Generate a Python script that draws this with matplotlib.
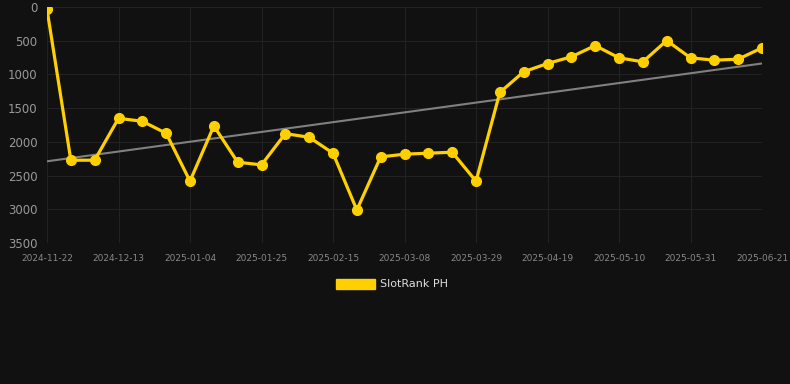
import numpy as np
import pandas as pd
import matplotlib
matplotlib.use("Agg")
import matplotlib.pyplot as plt
import matplotlib.patches as mpatches

# weekly rank values (lower = better)
dates = pd.date_range("2024-11-22", periods=31, freq="7D")
ranks = [35, 2272, 2272, 1651, 1695, 1873, 2583, 1764, 2302, 2341,
         1878, 1932, 2168, 3011, 2223, 2183, 2168, 2154, 2583, 1267,
         961, 838, 739, 572, 754, 813, 498, 754, 789, 774, 606]
tick_labels = ["2024-11-22", "2024-12-13", "2025-01-04", "2025-01-25",
               "2025-02-15", "2025-03-08", "2025-03-29", "2025-04-19",
               "2025-05-10", "2025-05-31", "2025-06-21"]
y_ticks = [0, 500, 1000, 1500, 2000, 2500, 3000, 3500]

bg = "#111111"
fig = plt.figure(figsize=(7.9, 3.84), dpi=100, facecolor=bg)
ax = fig.add_axes([47/790, 1-243/384, (762-47)/790, (243-7)/384])
ax.set_facecolor(bg)

# trend line
xn = np.arange(len(ranks))
k, b = np.polyfit(xn, ranks, 1)
ax.plot(dates, k*xn + b, color="#808080", lw=1.5, zorder=2)

ax.plot(dates, ranks, color="#FFD000", lw=2.3, marker="o", ms=7, zorder=3)

ax.set_ylim(3500, 0)
ax.set_xlim(dates[0], dates[-1])
ax.set_yticks(y_ticks)
tick_pos = pd.date_range(dates[0], dates[-1], periods=len(tick_labels))
ax.set_xticks(tick_pos)
ax.set_xticklabels(tick_labels)
ax.grid(True, color="#222222", lw=0.8)
for s in ax.spines.values():
    s.set_visible(False)
ax.tick_params(axis="y", colors="#999999", labelsize=8.5, length=0, pad=7)
ax.tick_params(axis="x", colors="#888888", labelsize=6.5, length=0, pad=8)

handle = mpatches.Patch(color="#FFD000", label="SlotRank PH")
fig.legend(handles=[handle], loc="center", bbox_to_anchor=(0.496, 1-284/384),
           frameon=False, fontsize=8, handlelength=3.5, handleheight=1.0,
           handletextpad=0.4, labelcolor="#DDDDDD")

fig.savefig("out.png", dpi=100, facecolor=bg)
